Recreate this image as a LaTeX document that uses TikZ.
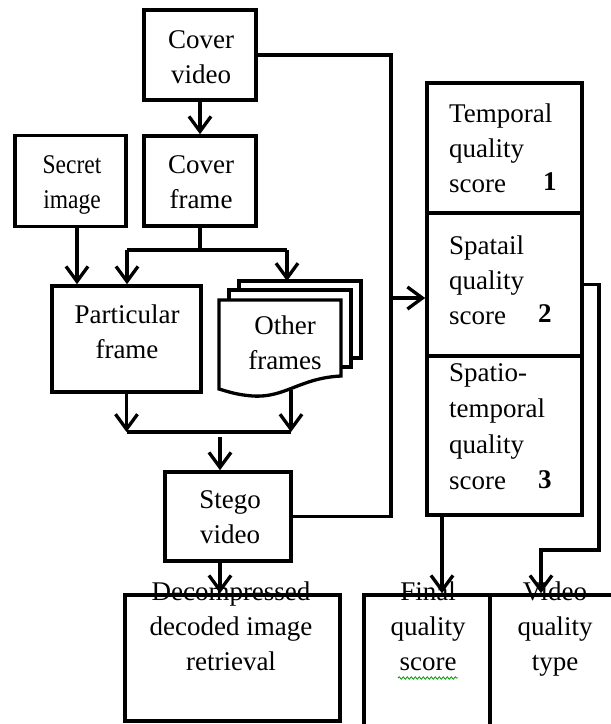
\documentclass[tikz,border=0pt]{standalone}
\usepackage{fontspec}
\usepackage{graphicx}
\setmainfont{Liberation Serif}
\usetikzlibrary{arrows.meta,decorations.pathmorphing}
\begin{document}
\begin{tikzpicture}[x=1pt,y=-1pt,
  line/.style={line width=3.3pt, line join=miter},
  arr/.style={line, -{Straight Barb[length=15pt,width=22pt]}},
  box/.style={draw, line width=3.6pt, inner sep=0pt, minimum width=#1},
  txt/.style={anchor=north, yshift=16.5pt, inner sep=0pt, align=center,
    font=\fontsize{27}{35}\selectfont, execute at begin node=\strut},
  ltxt/.style={anchor=north west, yshift=16.5pt, inner sep=0pt, align=left,
    font=\fontsize{27}{35}\selectfont, execute at begin node=\strut},
  num/.style={anchor=base west, inner sep=0pt, font=\fontsize{27}{35}\selectfont\bfseries}]
\clip (0,0) rectangle (611,724);
\fill[white] (0,0) rectangle (611,724);

% boxes
\node[box=112, minimum height=90] (cv) at (200,55) {};
\node[box=112, minimum height=90] (cf) at (200,181) {};
\node[box=111, minimum height=91] (si) at (70.5,181) {};
\node[box=149, minimum height=106] (pf) at (126.5,339) {};
\node[box=126, minimum height=89] (sv) at (228,516.5) {};
\node[box=215, minimum height=126] (dr) at (232.5,658) {};
\node[box=155, minimum height=130] (t1) at (504.5,148) {};
\node[box=155, minimum height=143] (t2) at (504.5,284.5) {};
\node[box=155, minimum height=159] (t3) at (504.5,435.5) {};
\node[box=126, minimum height=160] (fq) at (427,675) {};
\node[box=160, minimum height=160] (vq) at (570,675) {};

% other frames (document stack)
\node[inner sep=0pt, minimum width=122, minimum height=89] (of) at (280,344.5) {};
\draw[line] (239,290) -- (239,281) -- (361,281) -- (361,358) -- (351,358);
\draw[line] (229,300) -- (229,290) -- (351,290) -- (351,367) -- (341,367);
\draw[line, fill=white] (219,300) -- (341,300) -- (341,376)
  .. controls (300,378) and (285,398) .. (253,396)
  .. controls (237,395) and (226,391) .. (219,389) -- cycle;

% texts
\node[txt] (tcv) at (201,47) {Cover\\video};
\node[txt] (tcf) at (201,172) {Cover\\frame};
\node[txt] (tsi) at (72,172) {\scalebox{0.87}[1]{Secret}\\\scalebox{0.87}[1]{image}};
\node[txt] (tpf) at (127,321) {Particular\\frame};
\node[txt] (tof) at (285,332) {Other\\frames};
\node[txt] (tsv) at (230,507) {Stego\\video};
\node[txt] (tdr) at (231,598) {Decompressed\\decoded image\\retrieval};
\node[txt] (tfq) at (428,598) {Final\\quality\\score};
\node[txt] (tvq) at (555,598) {Video\\quality\\type};
\node[ltxt] (tt1) at (449,120) {Temporal\\quality\\score};
\node[ltxt] (tt2) at (449,252) {Spatail\\quality\\score};
\node[ltxt, font=\fontsize{27}{36}\selectfont] (tt3) at (449,380) {Spatio-\\temporal\\quality\\score};
\node[num] (n1) at (543,190) {1};
\node[num] (n2) at (538,322) {2};
\node[num] (n3) at (538,488) {3};
\coordinate (sqa) at (398,678);
\coordinate (sqb) at (458,678);
\draw[green!60!black, line width=0.8pt, decorate,
  decoration={snake, amplitude=1.2pt, segment length=4pt}] (sqa) -- (sqb);

% junction coordinates
\coordinate (j1) at (200,250);
\coordinate (j1l) at (127,250);
\coordinate (j1r) at (287,250);
\coordinate (oftop) at (287,281);
\coordinate (sis) at (77,227);
\coordinate (ofb) at (291,390);
\coordinate (j2l) at (126.5,432);
\coordinate (j2r) at (291,432);
\coordinate (j2s) at (220,437);
\coordinate (svs) at (220,561);
\coordinate (bx) at (391,0);
\coordinate (ta) at (391,298);
\coordinate (r1) at (599,550);
\coordinate (vqx) at (541,0);
\coordinate (fqx) at (442,0);

% connectors
\draw[arr] (cv) -- (cf);
\draw[line] (cf.south) -- (j1);
\draw[line] (j1l) -- (j1r);
\draw[arr] (j1l) -- (j1l |- pf.north);
\draw[arr] (j1r) -- (oftop);
\draw[arr] (sis) -- (sis |- pf.north);
\draw[arr] (pf.south) -- (j2l);
\draw[arr] (ofb) -- (j2r);
\draw[line] (j2l) -- (j2r);
\draw[arr] (j2s) -- (j2s |- sv.north);
\draw[arr] (svs) -- (svs |- dr.north);
\draw[line] (cv.east) -| (bx |- sv.east) -- (sv.east);
\draw[arr] (ta) -- (ta -| t2.west);
\draw[arr] (t2.east) -| (r1) -| (vqx |- vq.north);
\draw[arr] (fqx |- t3.south) -- (fqx |- fq.north);
\end{tikzpicture}
\end{document}
